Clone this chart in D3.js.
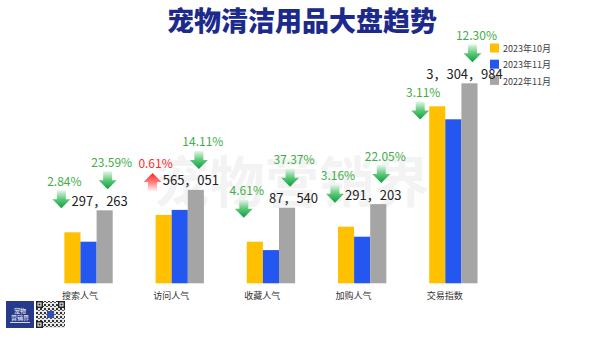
<!DOCTYPE html>
<html><head><meta charset="utf-8">
<script src="https://cdn.jsdelivr.net/npm/d3@7/dist/d3.min.js"></script>
<style>html,body{margin:0;padding:0;background:#fff;}svg{display:block;}</style>
</head><body>
<script>
// ---- data ----
const categories = ["搜索人气", "访问人气", "收藏人气", "加购人气", "交易指数"];
const seriesNames = ["2023年10月", "2023年11月", "2022年11月"];
// bar heights as a relative index (交易指数 2022年11月 = 100)
const oct2023 = [25.5, 34.2, 20.8, 28.3, 88.5];
const nov2023 = [20.8, 36.7, 16.6, 23.3, 82.0];
const nov2022 = [36.5, 46.7, 37.8, 39.6, 100];
const nov2022Labels = ["297，263", "565，051", "87，540", "291，203", "3，304，984"];
const momChange = [-2.84, 0.61, -4.61, -3.16, -3.11];
const yoyChange = [-23.59, -14.11, -37.37, -22.05, -12.30];
const titleText = "宠物清洁用品大盘趋势";
const watermarkText = "宠物营销界";

const seriesValues = [oct2023, nov2023, nov2022];
const colors = ["#ffc000", "#2456f0", "#a5a5a5"];
const FONT = "'Noto Sans CJK SC','Noto Sans',sans-serif";
const GREEN = "#3fae49", RED = "#ff2a2a";

const W = 600, H = 339;
const svg = d3.select("body").append("svg").attr("width", W).attr("height", H)
  .style("font-family", FONT);
svg.append("rect").attr("width", W).attr("height", H).attr("fill", "#fff");

const defs = svg.append("defs");
const gDown = defs.append("linearGradient").attr("id", "gDown").attr("x1", 0).attr("y1", 0).attr("x2", 0).attr("y2", 1);
gDown.append("stop").attr("offset", "0%").attr("stop-color", "#e6f6ea");
gDown.append("stop").attr("offset", "50%").attr("stop-color", "#5cc878");
gDown.append("stop").attr("offset", "100%").attr("stop-color", "#0a9e3e");
const gUp = defs.append("linearGradient").attr("id", "gUp").attr("x1", 0).attr("y1", 0).attr("x2", 0).attr("y2", 1);
gUp.append("stop").attr("offset", "0%").attr("stop-color", "#ff2626");
gUp.append("stop").attr("offset", "50%").attr("stop-color", "#ff7a7a");
gUp.append("stop").attr("offset", "100%").attr("stop-color", "#fff0f0");

// watermark
svg.append("text").attr("x", 292).attr("y", 178).attr("text-anchor", "middle")
  .attr("dominant-baseline", "central").attr("font-size", 55).attr("font-weight", "bold")
  .attr("fill", "#f3f3f3").text(watermarkText);

// title
svg.append("text").attr("x", 302).attr("y", 19).attr("text-anchor", "middle")
  .attr("dominant-baseline", "central").attr("font-size", 27).attr("font-weight", 900)
  .attr("fill", "#1c2a8c").text(titleText);

// scales
const x = d3.scaleBand().domain(categories).range([21.5, 520.4]).paddingInner(0.47).paddingOuter(0.47);
const xs = d3.scaleBand().domain(seriesNames).range([0, x.bandwidth()]);
const y = d3.scaleLinear().domain([0, 100]).range([283.3, 83.3]);

// bars
const groups = svg.append("g").selectAll("g").data(categories).join("g")
  .attr("transform", c => `translate(${x(c)},0)`);
groups.selectAll("rect").data((c, i) => seriesNames.map((s, j) => ({ s, j, v: seriesValues[j][i] })))
  .join("rect")
  .attr("x", d => xs(d.s)).attr("width", xs.bandwidth())
  .attr("y", d => y(d.v)).attr("height", d => y(0) - y(d.v))
  .attr("fill", d => colors[d.j]);

// category labels
svg.append("g").selectAll("text").data(categories).join("text")
  .attr("x", c => x(c) + 15.6).attr("y", 295).attr("text-anchor", "middle")
  .attr("dominant-baseline", "central").attr("font-size", 9).attr("fill", "#333")
  .text(c => c);

// legend
const lg = svg.append("g").selectAll("g").data(seriesNames).join("g")
  .attr("transform", (d, i) => `translate(490,${43.5 + i * 16.2})`);
lg.append("rect").attr("width", 9).attr("height", 9).attr("fill", (d, i) => colors[i]);
lg.append("text").attr("x", 13).attr("y", 5.2).attr("dominant-baseline", "central")
  .attr("font-size", 9).attr("fill", "#404040").text(d => d);

// arrows
function arrowPath(cx, top, up) {
  if (!up) return `M${cx - 4.5},${top}L${cx + 4.5},${top}L${cx + 4.5},${top + 9}L${cx + 9},${top + 9}L${cx},${top + 18}L${cx - 9},${top + 9}L${cx - 4.5},${top + 9}Z`;
  return `M${cx},${top}L${cx + 9},${top + 9}L${cx + 4.5},${top + 9}L${cx + 4.5},${top + 18}L${cx - 4.5},${top + 18}L${cx - 4.5},${top + 9}L${cx - 9},${top + 9}Z`;
}
const pct = v => Math.abs(v).toFixed(2) + "%";
const ann = svg.append("g");
function overlap(a, b, tol) {
  return Math.min(a.x1, b.x1) - Math.max(a.x0, b.x0) > tol && Math.min(a.y1, b.y1) - Math.max(a.y0, b.y0) > tol;
}

categories.forEach((c, i) => {
  const yl = x(c), gx = x(c) + xs(seriesNames[2]) + xs.bandwidth() / 2;
  // value label above gray bar
  const labY = y(nov2022[i]) - 10;
  let labCx = gx - 5;
  const lab = ann.append("text").attr("y", labY).attr("text-anchor", "middle")
    .attr("dominant-baseline", "central").attr("font-size", 13).attr("fill", "#222")
    .text(nov2022Labels[i]);
  const lw = lab.node().getComputedTextLength();

  // month-over-month annotation
  let mArrowCx = yl - 3;
  let mTextY = y(oct2023[i]) - 52;
  const mt = ann.append("text").attr("text-anchor", "middle").attr("dominant-baseline", "central")
    .attr("font-size", 12).attr("fill", momChange[i] >= 0 ? RED : GREEN).text(pct(momChange[i]));
  const mw = mt.node().getComputedTextLength();
  let tBox = { x0: mArrowCx + 3 - mw / 2, x1: mArrowCx + 3 + mw / 2, y0: mTextY - 4.8, y1: mTextY + 4.8 };
  let lBox = { x0: labCx - lw / 2, x1: labCx + lw / 2, y0: labY - 5.2, y1: labY + 5.2 };
  if (overlap(tBox, lBox, 0)) { labCx = tBox.x1 + 5 + lw / 2; lBox = { x0: labCx - lw / 2, x1: labCx + lw / 2, y0: labY - 5.2, y1: labY + 5.2 }; }
  const aBox = { x0: mArrowCx - 9, x1: mArrowCx + 9, y0: mTextY + 10, y1: mTextY + 28 };
  if (overlap(aBox, lBox, 4)) { mTextY = lBox.y1 + 13; mArrowCx = yl - 9; }
  mt.attr("x", mArrowCx + 3).attr("y", mTextY);
  ann.append("path").attr("d", arrowPath(mArrowCx, mTextY + 10, momChange[i] >= 0))
    .attr("fill", momChange[i] >= 0 ? "url(#gUp)" : "url(#gDown)");
  lab.attr("x", labCx);

  // year-over-year annotation
  const yArrowCx = gx + 3;
  const yArrowTop = labY - 11 - 18;
  ann.append("path").attr("d", arrowPath(yArrowCx, yArrowTop, yoyChange[i] >= 0))
    .attr("fill", yoyChange[i] >= 0 ? "url(#gUp)" : "url(#gDown)");
  ann.append("text").attr("x", yArrowCx + 4).attr("y", yArrowTop - 10).attr("text-anchor", "middle")
    .attr("dominant-baseline", "central").attr("font-size", 12)
    .attr("fill", yoyChange[i] >= 0 ? RED : GREEN).text(pct(yoyChange[i]));
});

// logo block bottom-left
const logo = svg.append("g");
logo.append("rect").attr("x", 6).attr("y", 301).attr("width", 28).attr("height", 27).attr("fill", "#26398a");
logo.append("text").attr("x", 20).attr("y", 310).attr("text-anchor", "middle").attr("dominant-baseline", "central")
  .attr("font-size", 6).attr("fill", "#fff").text("宠物");
logo.append("text").attr("x", 20).attr("y", 317.5).attr("text-anchor", "middle").attr("dominant-baseline", "central")
  .attr("font-size", 6).attr("fill", "#fff").text("营销界");
logo.append("rect").attr("x", 10).attr("y", 322).attr("width", 20).attr("height", 0.8).attr("fill", "#fff");
const qp = defs.append("pattern").attr("id", "qr").attr("width", 4).attr("height", 4).attr("patternUnits", "userSpaceOnUse");
qp.append("rect").attr("width", 4).attr("height", 4).attr("fill", "#e8e8e8");
qp.append("rect").attr("width", 2).attr("height", 2).attr("fill", "#333");
qp.append("rect").attr("x", 2).attr("y", 2).attr("width", 2).attr("height", 1).attr("fill", "#555");
logo.append("rect").attr("x", 36).attr("y", 301).attr("width", 29).attr("height", 27).attr("fill", "url(#qr)");
[[36, 301], [58, 301], [36, 321]].forEach(([a, b]) => {
  logo.append("rect").attr("x", a).attr("y", b).attr("width", 7).attr("height", 7).attr("fill", "#222");
  logo.append("rect").attr("x", a + 1.5).attr("y", b + 1.5).attr("width", 4).attr("height", 4).attr("fill", "#fff");
  logo.append("rect").attr("x", a + 2.5).attr("y", b + 2.5).attr("width", 2).attr("height", 2).attr("fill", "#222");
});
logo.append("rect").attr("x", 47).attr("y", 311).attr("width", 7).attr("height", 7).attr("fill", "#2f4fb5");
</script>
</body></html>
